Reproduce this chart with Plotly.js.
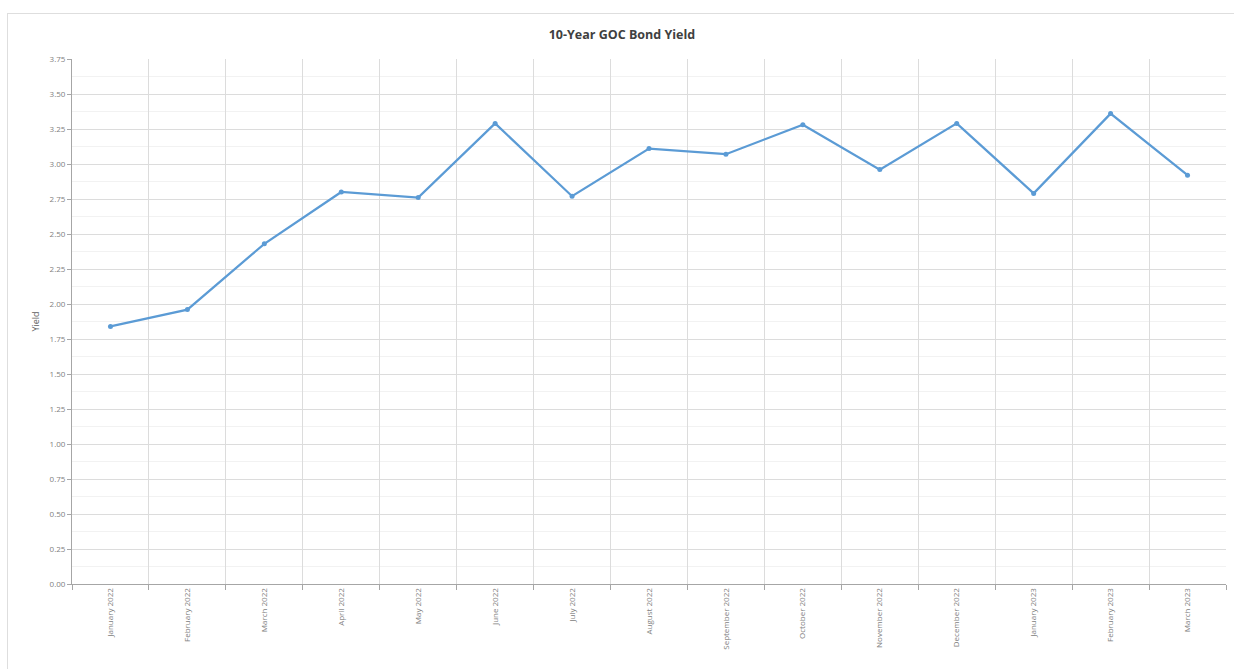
<!DOCTYPE html>
<html>
<head>
<meta charset="utf-8">
<script src="https://cdn.plot.ly/plotly-3.0.1.min.js"></script>
<style>
  html, body { margin: 0; padding: 0; background: #ffffff; }
  #frame { position: absolute; left: 7px; top: 13px; width: 1240px; height: 670px; border: 1px solid #dedede; box-sizing: border-box; }
  #chart { position: absolute; left: 0; top: 0; width: 1234px; height: 669px; }
</style>
</head>
<body>
<div id="frame"></div>
<div id="chart"></div>
<script>
const months = ["January 2022", "February 2022", "March 2022", "April 2022", "May 2022", "June 2022",
  "July 2022", "August 2022", "September 2022", "October 2022", "November 2022", "December 2022",
  "January 2023", "February 2023", "March 2023"];
const yields = [1.84, 1.96, 2.43, 2.80, 2.76, 3.29, 2.77, 3.11, 3.07, 3.28, 2.96, 3.29, 2.79, 3.36, 2.92];
const yTicks = [0, 0.25, 0.5, 0.75, 1, 1.25, 1.5, 1.75, 2, 2.25, 2.5, 2.75, 3, 3.25, 3.5, 3.75];
const yTickText = ["0.00", "0.25", "0.50", "0.75", "1.00", "1.25", "1.50", "1.75", "2.00", "2.25", "2.50", "2.75", "3.00", "3.25", "3.50", "3.75"];

const trace = {
  x: months,
  y: yields,
  type: "scatter",
  mode: "lines+markers",
  line: { color: "#5b9bd5", width: 2.25 },
  marker: { color: "#5b9bd5", size: 5 },
  hoverinfo: "x+y"
};

const layout = {
  width: 1234,
  height: 669,
  paper_bgcolor: "rgba(0,0,0,0)",
  plot_bgcolor: "#ffffff",
  margin: { l: 72, r: 8, t: 59, b: 85 },
  showlegend: false,
  font: { family: "Open Sans, Lato, sans-serif", color: "#7f7f7f", size: 8 },
  title: {
    text: "<b>10-Year GOC Bond Yield</b>",
    font: { family: "Open Sans, Lato, sans-serif", size: 12.5, color: "#404040" },
    x: 0.504, xanchor: "center",
    y: 0.948, yanchor: "middle"
  },
  xaxis: {
    type: "category",
    range: [-0.5, months.length - 0.5],
    tickson: "boundaries",
    showgrid: true,
    gridcolor: "#dcdcdc",
    gridwidth: 1,
    showline: true,
    linecolor: "#a6a6a6",
    linewidth: 1,
    ticks: "outside",
    ticklen: 5,
    tickcolor: "#a6a6a6",
    tickangle: -90,
    tickfont: { size: 8, color: "#808080", family: "Open Sans, Lato, sans-serif" },
    fixedrange: true
  },
  yaxis: {
    range: [0, 3.75],
    tickvals: yTicks,
    ticktext: yTickText,
    showgrid: true,
    gridcolor: "#dcdcdc",
    gridwidth: 1,
    zeroline: false,
    showline: true,
    linecolor: "#a6a6a6",
    linewidth: 1,
    ticks: "outside",
    ticklen: 4,
    tickcolor: "#a6a6a6",
    tickfont: { size: 8, color: "#808080", family: "Open Sans, Lato, sans-serif" },
    minor: { dtick: 0.125, showgrid: true, gridcolor: "#f2f2f2", gridwidth: 1 },
    title: { text: "Yield", font: { size: 9, color: "#606060" }, standoff: 8 },
    fixedrange: true
  }
};

Plotly.newPlot("chart", [trace], layout, { displayModeBar: false, staticPlot: true });
</script>
</body>
</html>
